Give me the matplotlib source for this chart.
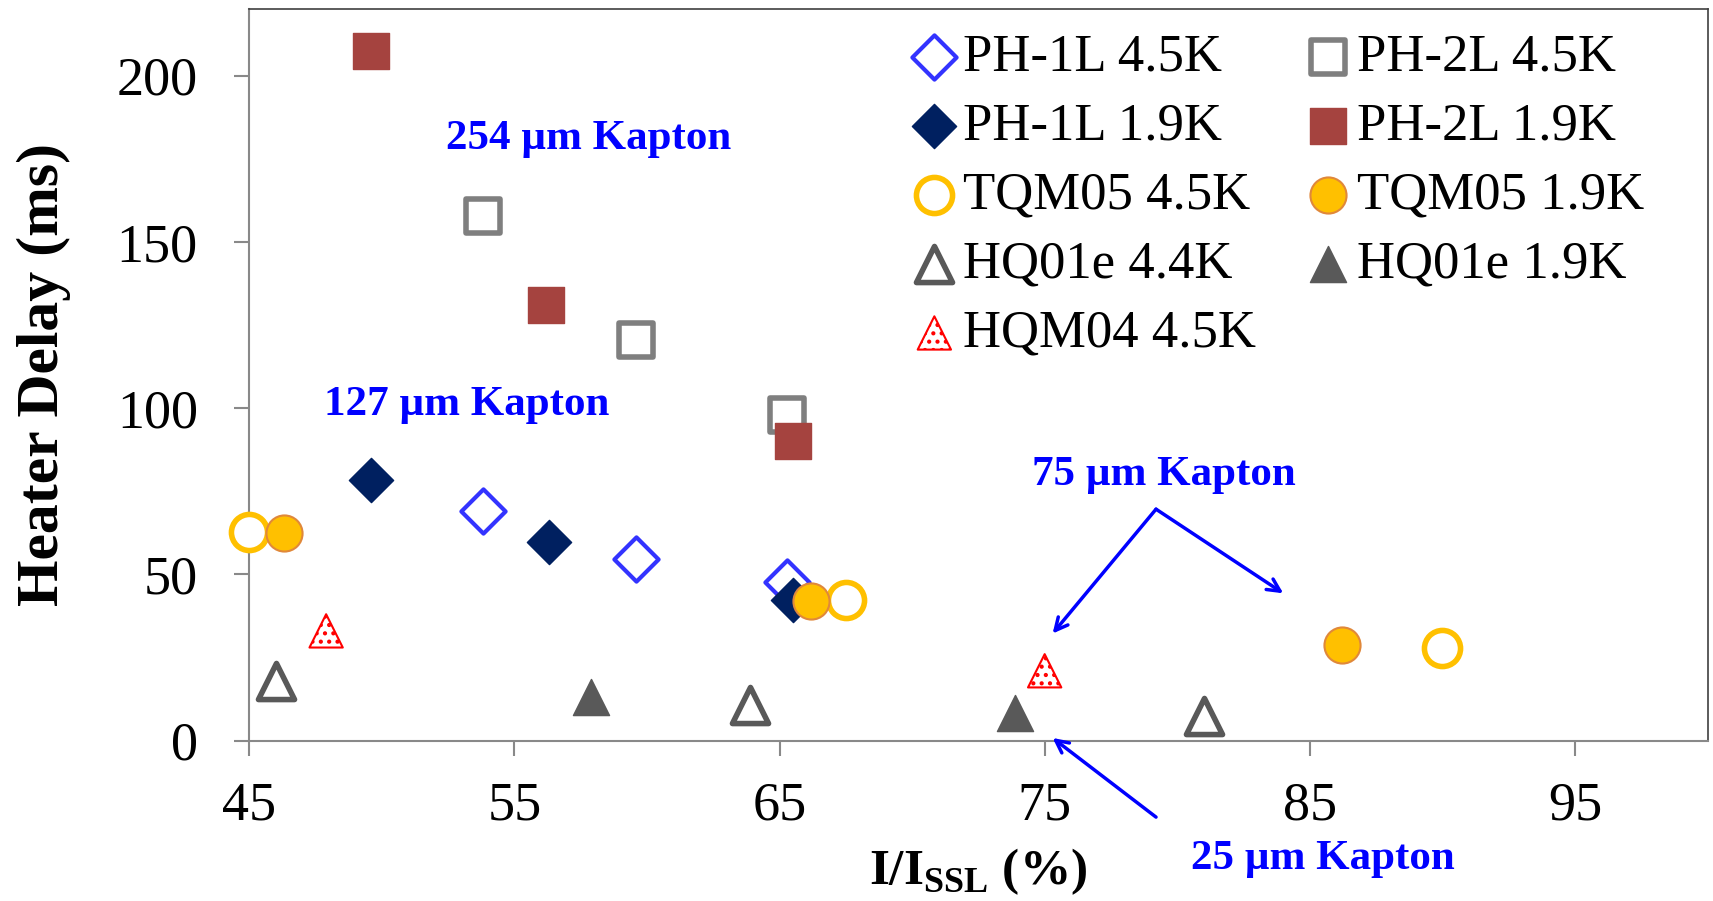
import matplotlib
matplotlib.use("Agg")
import matplotlib.pyplot as plt

plt.rcParams['font.family'] = ['Liberation Serif', 'DejaVu Serif']
plt.rcParams['mathtext.fontset'] = 'custom'
plt.rcParams['mathtext.rm'] = 'Liberation Serif'
plt.rcParams['mathtext.bf'] = 'Liberation Serif:bold'
plt.rcParams['hatch.linewidth'] = 1.8

# data
ph1l_45_x = [53.8, 59.6, 65.3]
ph1l_45_y = [68.9, 54.5, 47.6]
ph1l_19_x = [49.6, 56.3, 65.5]
ph1l_19_y = [78.5, 59.8, 42.4]
ph2l_45_x = [53.8, 59.6, 65.3]
ph2l_45_y = [157.9, 120.5, 97.8]
ph2l_19_x = [49.6, 56.2, 65.5]
ph2l_19_y = [207.5, 131.0, 90.0]
tqm_45_x = [45.0, 67.5, 90.0]
tqm_45_y = [62.7, 42.4, 27.9]
tqm_19_x = [46.3, 66.2, 86.2]
tqm_19_y = [62.4, 42.0, 28.9]
hq_44_x = [46.0, 63.9, 81.0]
hq_44_y = [18.0, 10.8, 7.5]
hq_19_x = [57.9, 73.9]
hq_19_y = [13.0, 8.2]
hqm_45_x = [47.9, 75.0]
hqm_45_y = [33.0, 21.0]

xticks = [45, 55, 65, 75, 85, 95]
yticks = [0, 50, 100, 150, 200]

fig = plt.figure(figsize=(17.13, 9.01), dpi=100)
ax = fig.add_axes([0.1455, 0.178, 0.8513, 0.812])

S = 26 ** 2
kw = dict(zorder=3, clip_on=False)
h1 = ax.scatter(ph1l_45_x, ph1l_45_y, s=S*0.75, marker='D', facecolor='white', edgecolor='#3333FF', linewidth=3, **kw)
h3 = ax.scatter(ph1l_19_x, ph1l_19_y, s=S*0.75, marker='D', facecolor='#002060', edgecolor='#002060', linewidth=1, **kw)
h2 = ax.scatter(ph2l_45_x, ph2l_45_y, s=S*0.85, marker='s', facecolor='white', edgecolor='#7F7F7F', linewidth=4, **kw)
h4 = ax.scatter(ph2l_19_x, ph2l_19_y, s=S*0.95, marker='s', facecolor='#A5433F', edgecolor='#A5433F', linewidth=1, **kw)
h5 = ax.scatter(tqm_45_x, tqm_45_y, s=S, marker='o', facecolor='white', edgecolor='#FFC000', linewidth=4, **kw)
h6 = ax.scatter(tqm_19_x, tqm_19_y, s=S, marker='o', facecolor='#FFC000', edgecolor='#E0883A', linewidth=1.5, **kw)
h7 = ax.scatter(hq_44_x, hq_44_y, s=S, marker='^', facecolor='white', edgecolor='#595959', linewidth=4, **kw)
h8 = ax.scatter(hq_19_x, hq_19_y, s=S, marker='^', facecolor='#595959', edgecolor='#595959', linewidth=1, **kw)
h9 = ax.scatter(hqm_45_x, hqm_45_y, s=S*0.85, marker='^', facecolor='white', edgecolor='#FF0000', linewidth=1.5, hatch='..', **kw)

handles = [h1, h3, h5, h7, h9, h2, h4, h6, h8]
labels = ['PH-1L 4.5K', 'PH-1L 1.9K', 'TQM05 4.5K', 'HQ01e 4.4K', 'HQM04 4.5K',
          'PH-2L 4.5K', 'PH-2L 1.9K', 'TQM05 1.9K', 'HQ01e 1.9K']
ax.legend(handles, labels, ncol=2, frameon=False, loc='upper left',
          bbox_to_anchor=(0.43, 1.01), fontsize=38, handletextpad=0.05,
          columnspacing=0.85, labelspacing=0.4, handlelength=1.0, borderaxespad=0.2)

ax.set_xlim(45, 100)
ax.set_ylim(0, 220)
ax.set_xticks(xticks)
ax.set_yticks(yticks)
ax.tick_params(axis='both', labelsize=39, direction='out', length=11, width=1.5, color='#898989')
ax.tick_params(axis='x', pad=18)
ax.tick_params(axis='y', pad=26)
for side in ['left', 'bottom']:
    ax.spines[side].set_color('#898989')
    ax.spines[side].set_linewidth(1.5)
for side in ['top', 'right']:
    ax.spines[side].set_color('#404040')
    ax.spines[side].set_linewidth(1.2)

ax.set_ylabel('Heater Delay (ms)', fontsize=43, fontweight='bold', labelpad=33)
ax.set_xlabel(r'I/I$_\mathbf{SSL}$ (%)', fontsize=37, fontweight='bold', labelpad=11)

blue = '#0000FF'
ax.text(57.8, 181, '254 µm Kapton', color=blue, fontsize=31, fontweight='bold', ha='center', va='center')
ax.text(53.2, 101, '127 µm Kapton', color=blue, fontsize=31, fontweight='bold', ha='center', va='center')
ax.text(79.5, 80, '75 µm Kapton', color=blue, fontsize=31, fontweight='bold', ha='center', va='center')
ax.text(85.5, -35.5, '25 µm Kapton', color=blue, fontsize=31, fontweight='bold', ha='center', va='center')

arr = dict(arrowstyle='->,head_length=0.9,head_width=0.45', color=blue, lw=2.5, shrinkA=0, shrinkB=0)
ax.annotate('', xy=(75.3, 32.2), xytext=(79.2, 69.6), arrowprops=arr)
ax.annotate('', xy=(84.0, 44.3), xytext=(79.2, 69.6), arrowprops=arr)
ax.annotate('', xy=(75.3, 0.8), xytext=(79.2, -23), arrowprops=arr, annotation_clip=False)

fig.savefig('out.png', dpi=100)
